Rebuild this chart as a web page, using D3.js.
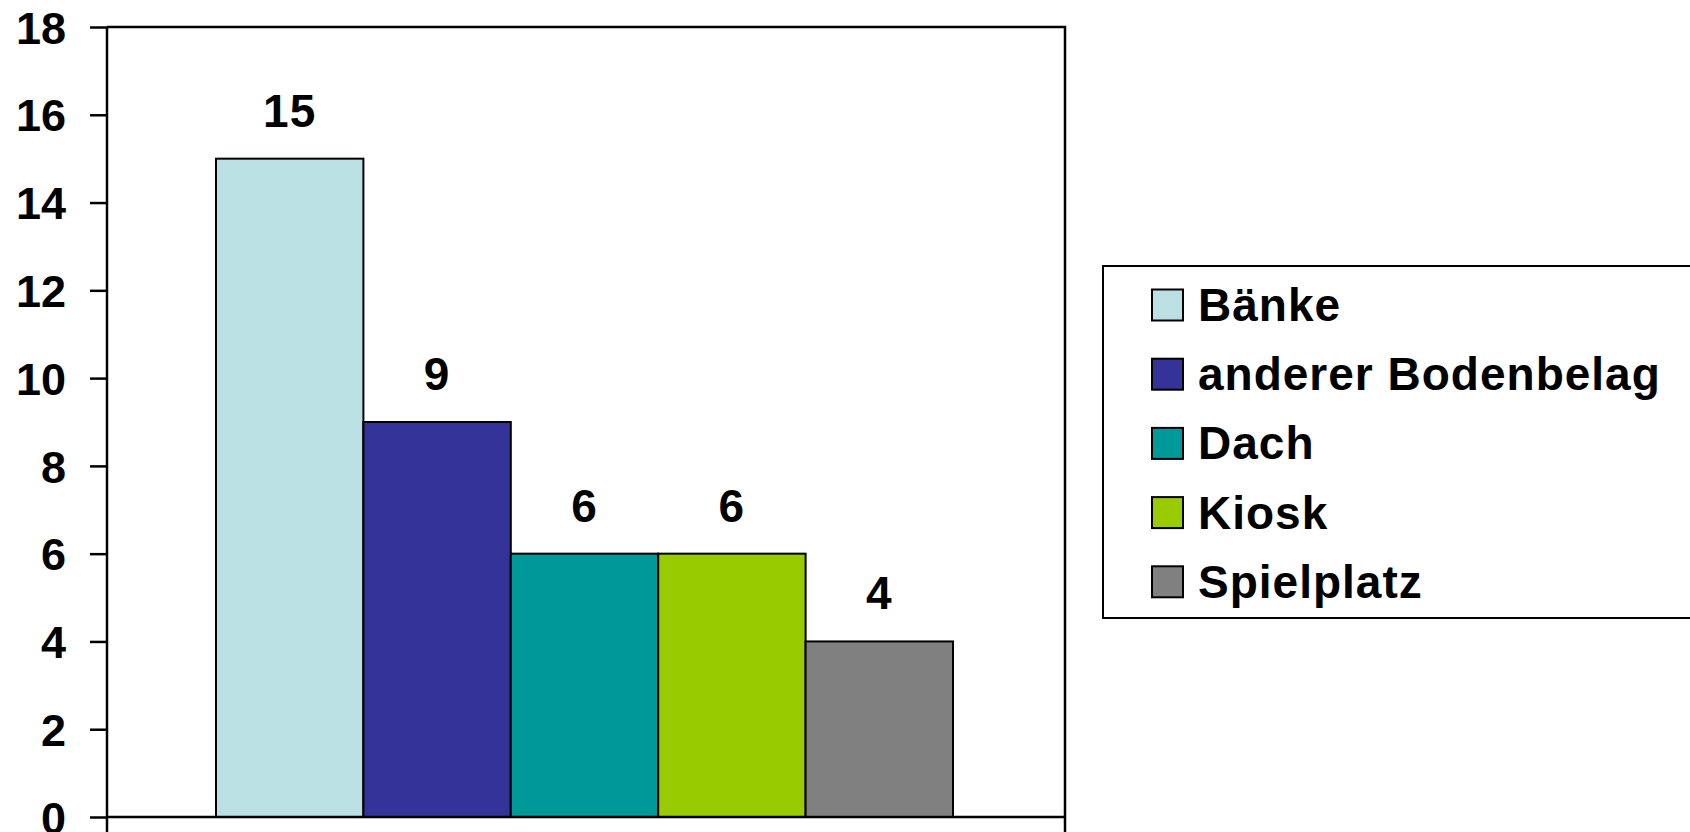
<!DOCTYPE html>
<html>
<head>
<meta charset="utf-8">
<script src="https://cdn.jsdelivr.net/npm/d3@7/dist/d3.min.js"></script>
<style>
  html, body { margin: 0; padding: 0; background: #fff; overflow: hidden; }
  svg { display: block; }
  text { font-family: "Liberation Sans", Arial, sans-serif; font-weight: bold; }
</style>
</head>
<body>
<svg id="chart" width="1690" height="832"></svg>
<script>
const seriesNames = ["Bänke", "anderer Bodenbelag", "Dach", "Kiosk", "Spielplatz"];
const seriesValues = [15, 9, 6, 6, 4];
const seriesColors = ["#BBE0E3", "#333399", "#009999", "#99CC00", "#808080"];
const yTicks = [0, 2, 4, 6, 8, 10, 12, 14, 16, 18];

const W = 1690, H = 832;
const plot = { left: 107, top: 27, right: 1065, bottom: 817 };
const groupPad = 109;

const svg = d3.select("#chart");

const y = d3.scaleLinear().domain([0, 18]).range([plot.bottom, plot.top]);
const x = d3.scaleBand().domain(seriesNames)
  .range([plot.left + groupPad, plot.right - groupPad - 3]).padding(0);

// plot border (top & right)
svg.append("path")
  .attr("d", `M${plot.left},${plot.top}H${plot.right}V${plot.bottom}`)
  .attr("fill", "none").attr("stroke", "#000").attr("stroke-width", 2.5);

// bars
svg.append("g").selectAll("rect").data(seriesNames).join("rect")
  .attr("x", d => x(d))
  .attr("y", (d, i) => y(seriesValues[i]))
  .attr("width", x.bandwidth())
  .attr("height", (d, i) => y(0) - y(seriesValues[i]))
  .attr("fill", (d, i) => seriesColors[i])
  .attr("stroke", "#000").attr("stroke-width", 2);

// value labels
svg.append("g").selectAll("text").data(seriesNames).join("text")
  .attr("x", d => x(d) + x.bandwidth() / 2)
  .attr("y", (d, i) => y(seriesValues[i]) - 32)
  .attr("text-anchor", "middle")
  .attr("font-size", 46)
  .attr("letter-spacing", "1px")
  .attr("fill", "#000")
  .text((d, i) => seriesValues[i]);

// y axis
const yAxis = d3.axisLeft(y).tickValues(yTicks).tickSize(17).tickPadding(24).tickFormat(d3.format("d"));
const gy = svg.append("g").attr("transform", `translate(${plot.left},0)`).call(yAxis);
gy.select(".domain").remove();
gy.selectAll(".tick line").attr("stroke", "#000").attr("stroke-width", 2.5);
gy.selectAll(".tick text").attr("font-size", 45).attr("fill", "#000")
  .attr("font-family", "Liberation Sans, Arial, sans-serif").attr("font-weight", "bold")
  .attr("dy", "0.36em");
svg.append("line").attr("x1", plot.left).attr("x2", plot.left)
  .attr("y1", plot.top).attr("y2", plot.bottom + 15)
  .attr("stroke", "#000").attr("stroke-width", 2.5);

// x axis baseline with edge ticks
svg.append("line").attr("x1", plot.left).attr("x2", plot.right)
  .attr("y1", plot.bottom).attr("y2", plot.bottom)
  .attr("stroke", "#000").attr("stroke-width", 2.5);
svg.append("line").attr("x1", plot.right).attr("x2", plot.right)
  .attr("y1", plot.bottom).attr("y2", plot.bottom + 15)
  .attr("stroke", "#000").attr("stroke-width", 2.5);

// legend
const lg = { left: 1103, top: 266, bottom: 618 };
svg.append("rect").attr("x", lg.left).attr("y", lg.top)
  .attr("width", W - lg.left + 20).attr("height", lg.bottom - lg.top)
  .attr("fill", "#fff").attr("stroke", "#000").attr("stroke-width", 2);
const rowStep = 69.2, firstRow = 305;
const items = svg.append("g").selectAll("g").data(seriesNames).join("g")
  .attr("transform", (d, i) => `translate(0,${firstRow + i * rowStep})`);
items.append("rect").attr("x", 1152).attr("y", -15.5).attr("width", 31).attr("height", 31)
  .attr("fill", (d, i) => seriesColors[i]).attr("stroke", "#000").attr("stroke-width", 2);
items.append("text").attr("x", 1198).attr("y", 16)
  .attr("font-size", 46).attr("letter-spacing", "1px")
  .attr("fill", "#000").text(d => d);
</script>
</body>
</html>
